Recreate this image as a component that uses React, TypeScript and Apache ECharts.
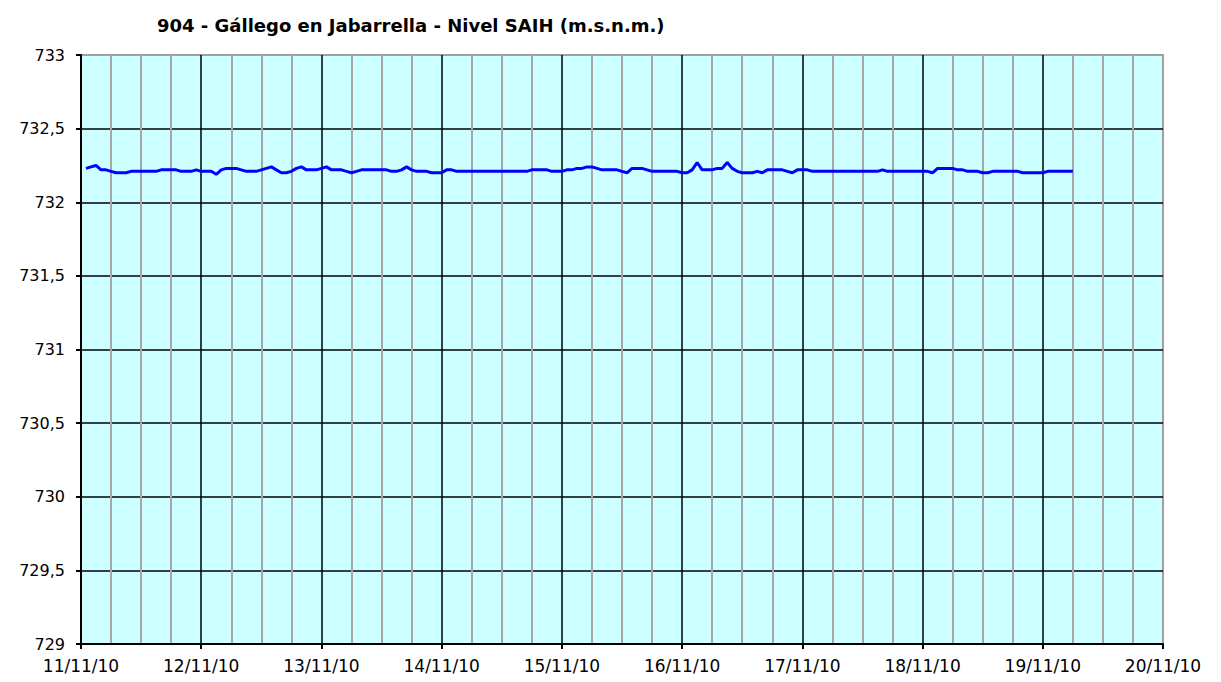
import React, { useEffect, useRef } from "react";
import * as echarts from "echarts";

const TITLE = "904 - Gállego en Jabarrella - Nivel SAIH (m.s.n.m.)";
const DAY_LABELS = ["11/11/10", "12/11/10", "13/11/10", "14/11/10", "15/11/10", "16/11/10", "17/11/10", "18/11/10", "19/11/10", "20/11/10"];
const Y_MIN = 729;
const Y_MAX = 733;
const Y_STEP = 0.5;
// hourly readings, first one at 01:00 on 11/11/10
const FIRST_HOUR = 1;
const LEVELS = [
  732.23, 732.24, 732.25, 732.22, 732.22, 732.21, 732.20, 732.20, 732.20, 732.21, 732.21, 732.21,
  732.21, 732.21, 732.21, 732.22, 732.22, 732.22, 732.22, 732.21, 732.21, 732.21, 732.22, 732.21,
  732.21, 732.21, 732.19, 732.22, 732.23, 732.23, 732.23, 732.22, 732.21, 732.21, 732.21, 732.22,
  732.23, 732.24, 732.22, 732.20, 732.20, 732.21, 732.23, 732.24, 732.22, 732.22, 732.22, 732.23,
  732.24, 732.22, 732.22, 732.22, 732.21, 732.20, 732.21, 732.22, 732.22, 732.22, 732.22, 732.22,
  732.22, 732.21, 732.21, 732.22, 732.24, 732.22, 732.21, 732.21, 732.21, 732.20, 732.20, 732.20,
  732.22, 732.22, 732.21, 732.21, 732.21, 732.21, 732.21, 732.21, 732.21, 732.21, 732.21, 732.21,
  732.21, 732.21, 732.21, 732.21, 732.21, 732.22, 732.22, 732.22, 732.22, 732.21, 732.21, 732.21,
  732.22, 732.22, 732.23, 732.23, 732.24, 732.24, 732.23, 732.22, 732.22, 732.22, 732.22, 732.21,
  732.20, 732.23, 732.23, 732.23, 732.22, 732.21, 732.21, 732.21, 732.21, 732.21, 732.21, 732.20,
  732.20, 732.22, 732.27, 732.22, 732.22, 732.22, 732.23, 732.23, 732.27, 732.23, 732.21, 732.20,
  732.20, 732.20, 732.21, 732.20, 732.22, 732.22, 732.22, 732.22, 732.21, 732.20, 732.22, 732.22,
  732.22, 732.21, 732.21, 732.21, 732.21, 732.21, 732.21, 732.21, 732.21, 732.21, 732.21, 732.21,
  732.21, 732.21, 732.21, 732.22, 732.21, 732.21, 732.21, 732.21, 732.21, 732.21, 732.21, 732.21,
  732.21, 732.20, 732.23, 732.23, 732.23, 732.23, 732.22, 732.22, 732.21, 732.21, 732.21, 732.20,
  732.20, 732.21, 732.21, 732.21, 732.21, 732.21, 732.21, 732.20, 732.20, 732.20, 732.20, 732.20,
  732.21, 732.21, 732.21, 732.21, 732.21, 732.21,
];

const FONT = "DejaVu Sans";

export default function App() {
  const ref = useRef<HTMLDivElement>(null);
  useEffect(() => {
    if (!ref.current) return;
    const chart = echarts.init(ref.current, null, { renderer: "svg" });
    const seriesData = LEVELS.map((v, i) => [FIRST_HOUR + i, v]);
    const hoursTotal = (DAY_LABELS.length - 1) * 24;
    chart.setOption({
      animation: false,
      backgroundColor: "#ffffff",
      title: {
        text: TITLE,
        left: 152,
        top: 11,
        textStyle: { fontFamily: FONT, fontSize: 18, fontWeight: 600, color: "#000" },
      },
      grid: {
        left: 81,
        right: 58,
        top: 55,
        bottom: 38,
        show: true,
        backgroundColor: "#ccffff",
        borderColor: "#a0a0a0",
        borderWidth: 2,
      },
      xAxis: {
        type: "value",
        min: 0,
        max: hoursTotal,
        interval: 24,
        axisLine: { show: true, lineStyle: { color: "#000", width: 2 } },
        axisTick: { show: true, length: 5, lineStyle: { color: "#000", width: 2 } },
        axisLabel: {
          margin: 13,
          fontFamily: FONT,
          fontSize: 17,
          color: "#000",
          formatter: (v: number) => DAY_LABELS[Math.round(v / 24)] ?? "",
        },
        splitLine: { show: true, showMinLine: false, showMaxLine: false, lineStyle: { color: "#000", width: 1.5 } },
        minorTick: { show: false, splitNumber: 4 },
        minorSplitLine: { show: true, lineStyle: { color: "#a6a6a6", width: 2 } },
      },
      yAxis: {
        type: "value",
        min: Y_MIN,
        max: Y_MAX,
        interval: Y_STEP,
        axisLine: { show: true, lineStyle: { color: "#000", width: 2 } },
        axisTick: { show: true, length: 5, lineStyle: { color: "#000", width: 2 } },
        axisLabel: {
          margin: 16,
          fontFamily: FONT,
          fontSize: 16,
          color: "#000",
          formatter: (v: number) => String(v).replace(".", ","),
        },
        splitLine: { show: true, showMinLine: false, showMaxLine: false, lineStyle: { color: "#000", width: 1.5 } },
      },
      series: [
        {
          type: "line",
          data: seriesData,
          showSymbol: false,
          lineStyle: { color: "#0000ff", width: 3 },
          z: 5,
        },
      ],
    });
    return () => chart.dispose();
  }, []);
  return (
    <div
      ref={ref}
      style={{ position: "absolute", left: 0, top: 0, width: 1221, height: 682 }}
    />
  );
}
